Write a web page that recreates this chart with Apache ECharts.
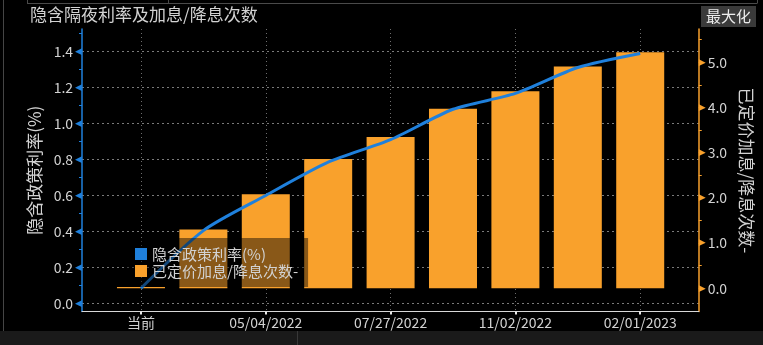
<!DOCTYPE html>
<html>
<head>
<meta charset="utf-8">
<script src="https://cdn.jsdelivr.net/npm/echarts@6/dist/echarts.min.js"></script>
<style>
html,body{margin:0;padding:0;background:#000;}
#chart{width:763px;height:345px;}
</style>
</head>
<body>
<div id="chart"></div>
<script>
// ---- data ----
const categories = ['当前','03/16/2022','05/04/2022','06/15/2022','07/27/2022','09/21/2022','11/02/2022','12/14/2022','02/01/2023'];
const hikesPriced = [0.03, 1.30, 2.08, 2.86, 3.35, 3.97, 4.36, 4.91, 5.22];
const impliedRate = [0.085, 0.405, 0.600, 0.785, 0.910, 1.079, 1.167, 1.311, 1.389];
const leftTickLabels = [0, 0.2, 0.4, 0.6, 0.8, 1.0, 1.2, 1.4];
const rightTickLabels = [0, 1, 2, 3, 4, 5];
const rightMinorTicks = [0,0.5,1,1.5,2,2.5,3,3.5,4,4.5,5,5.5];
const xLabelIndex = [0, 2, 4, 6, 8];

const FONT = '"Noto Sans CJK SC", "Noto Sans", sans-serif';
const BLUE = '#1f80dc';
const ORANGE = '#f9a12c';
const TXT = '#d2d2d2';

const X_MIN = -0.945, X_MAX = 8.938;
const LEFT_MIN = -0.04444, LEFT_MAX = 1.525;

const chart = echarts.init(document.getElementById('chart'), null, {renderer: 'canvas'});

const option = {
  backgroundColor: '#000',
  animation: false,
  textStyle: {fontFamily: FONT},
  title: {
    text: '隐含隔夜利率及加息/降息次数',
    left: 30, top: 6, padding: 0,
    textStyle: {color: TXT, fontSize: 17, fontWeight: 'normal', fontFamily: FONT}
  },
  legend: {
    data: ['隐含政策利率(%)', '已定价加息/降息次数-'],
    orient: 'vertical',
    left: 127, top: 238,
    padding: [8, 10, 8, 8],
    itemGap: 1,
    itemWidth: 12, itemHeight: 12,
    icon: 'rect',
    backgroundColor: 'rgba(0,0,0,0.45)',
    textStyle: {color: TXT, fontSize: 15, lineHeight: 16, fontFamily: FONT},
    z: 10
  },
  grid: {left: 82, right: 60, top: 29, bottom: 33.5, containLabel: false},
  xAxis: {
    type: 'value',
    min: X_MIN, max: X_MAX,
    axisLine: {show: true, onZero: false, lineStyle: {color: '#d8d8d8', width: 1}},
    axisTick: {show: true, length: 3, customValues: xLabelIndex, lineStyle: {color: '#e8e8e8', width: 2}},
    axisLabel: {
      show: true, customValues: xLabelIndex, margin: 4,
      color: TXT, fontSize: 14, fontFamily: FONT,
      formatter: v => categories[Math.round(v)] || ''
    },
    splitLine: {show: true, lineStyle: {color: '#6e6e6e', type: [1, 3], width: 1}}
  },
  yAxis: [
    {
      type: 'value', position: 'left',
      min: LEFT_MIN, max: LEFT_MAX, splitNumber: 8,
      name: '隐含政策利率(%)', nameLocation: 'middle', nameRotate: 90, nameGap: 36,
      nameTextStyle: {color: TXT, fontSize: 17, fontFamily: FONT},
      axisLine: {show: true, onZero: false, lineStyle: {color: BLUE, width: 1.5}},
      axisTick: {show: true, length: 3, customValues: leftTickLabels, lineStyle: {color: BLUE, width: 1}},
      minorTick: {show: true, splitNumber: 2, length: 3, lineStyle: {color: BLUE, width: 1}},
      axisLabel: {
        show: true, customValues: leftTickLabels, margin: 0,
        formatter: v => '{v|' + v.toFixed(1) + '}{t|◀}',
        rich: {
          v: {color: TXT, fontSize: 14, fontFamily: FONT, padding: [0, 2, 0, 0]},
          t: {color: BLUE, fontSize: 9, fontFamily: 'DejaVu Sans'}
        }
      },
      splitLine: {show: true, lineStyle: {color: '#7a7a7a', type: [2, 3], width: 1.2}},
      minorSplitLine: {show: false}
    },
    {
      type: 'value', position: 'right',
      min: -0.513, max: 5.737,
      name: '已定价加息/降息次数-', nameLocation: 'middle', nameRotate: -90, nameGap: 34,
      nameTextStyle: {color: TXT, fontSize: 17, fontFamily: FONT},
      axisLine: {show: true, onZero: false, lineStyle: {color: ORANGE, width: 1.5}},
      axisTick: {show: true, length: 3, customValues: rightMinorTicks, lineStyle: {color: ORANGE, width: 1}},
      axisLabel: {
        show: true, customValues: rightTickLabels, margin: 0,
        formatter: v => '{t|▶}{v|' + v.toFixed(1) + '}',
        rich: {
          v: {color: TXT, fontSize: 14, fontFamily: FONT, padding: [0, 0, 0, 2]},
          t: {color: ORANGE, fontSize: 9, fontFamily: 'DejaVu Sans'}
        }
      },
      splitLine: {show: false}
    }
  ],
  series: [
    {
      name: '已定价加息/降息次数-',
      type: 'bar',
      xAxisIndex: 0, yAxisIndex: 1,
      barWidth: 48,
      itemStyle: {color: ORANGE},
      data: hikesPriced.map((v, i) => [i, v]),
      z: 2
    },
    {
      name: '隐含政策利率(%)',
      type: 'line',
      xAxisIndex: 0, yAxisIndex: 0,
      symbol: 'none',
      smooth: 0.25,
      lineStyle: {color: BLUE, width: 3},
      itemStyle: {color: BLUE},
      data: impliedRate.map((v, i) => [i, v]),
      z: 3
    }
  ],
  graphic: [
    {type: 'line', shape: {x1: 27, y1: 3.5, x2: 757, y2: 3.5}, style: {stroke: '#4a4a4a', lineWidth: 1}, silent: true},
    {type: 'line', shape: {x1: 27.5, y1: 0, x2: 27.5, y2: 3.5}, style: {stroke: '#4a4a4a', lineWidth: 1}, silent: true},
    {type: 'line', shape: {x1: 168.5, y1: 0, x2: 168.5, y2: 3.5}, style: {stroke: '#4a4a4a', lineWidth: 1}, silent: true},
    {type: 'line', shape: {x1: 757.5, y1: 0, x2: 757.5, y2: 3.5}, style: {stroke: '#4a4a4a', lineWidth: 1}, silent: true},
    {type: 'line', shape: {x1: 3.5, y1: 0, x2: 3.5, y2: 331}, style: {stroke: '#454545', lineWidth: 1}, silent: true},
    {type: 'rect', shape: {x: 0, y: 331, width: 763, height: 14}, style: {fill: '#1a1a1a'}, silent: true},
    {type: 'line', shape: {x1: 297.5, y1: 331, x2: 297.5, y2: 345}, style: {stroke: '#383838', lineWidth: 1}, silent: true},
    {type: 'rect', shape: {x: 701, y: 6, width: 55, height: 21}, style: {fill: '#3a3a3a'}, silent: true},
    {type: 'text', x: 728.5, y: 16.5, style: {text: '最大化', fill: '#ececec', font: '15px ' + FONT, align: 'center', verticalAlign: 'middle'}, silent: true}
  ]
};
chart.setOption(option);
</script>
</body>
</html>
